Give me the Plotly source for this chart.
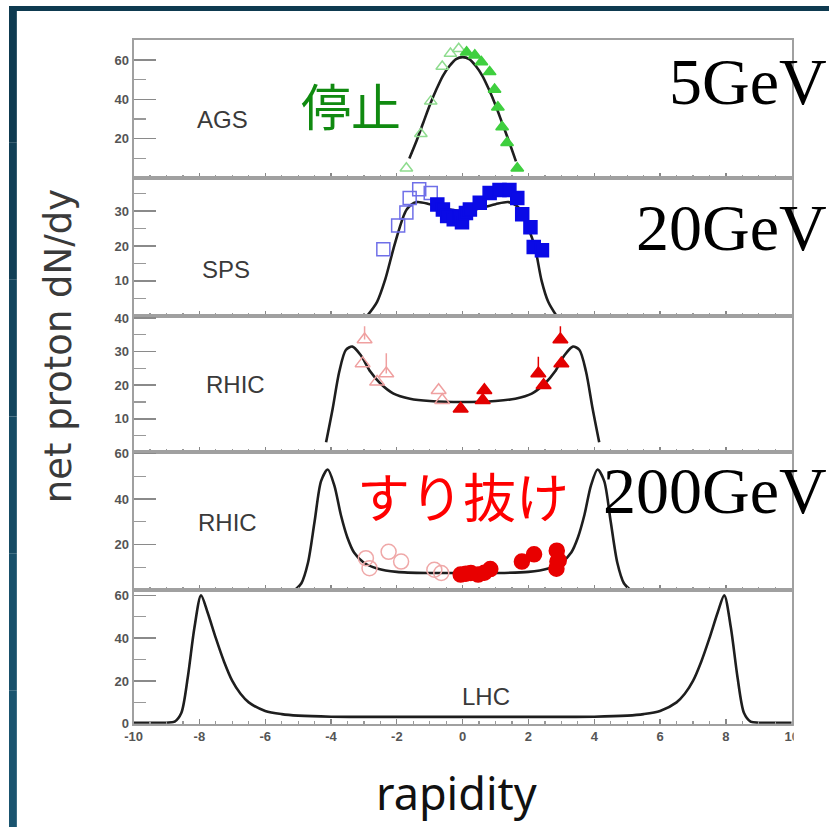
import plotly.graph_objects as go

# ---------------- data ----------------
# AGS (5 GeV)
ags_curve_x = [-1.62, -1.4, -1.2, -1.0, -0.8, -0.6, -0.4, -0.2, 0.0, 0.2, 0.4, 0.6, 0.8, 1.0, 1.2, 1.4, 1.62]
ags_curve_y = [10, 19, 28, 37, 45, 52, 57, 60.5, 61.5, 60.5, 57, 52, 45, 37, 28, 19, 8.5]
ags_open_x = [-1.71, -1.27, -0.97, -0.62, -0.37, -0.12]
ags_open_y = [5, 22.5, 39, 56.7, 63.3, 65.8]
ags_fill_x = [0.12, 0.37, 0.57, 0.82, 0.97, 1.07, 1.2, 1.35, 1.66]
ags_fill_y = [64, 62.5, 59, 54, 45, 36, 26, 18, 5]

# SPS (20 GeV)
sps_curve_x = [-2.9, -2.6, -2.35, -2.05, -1.7, -1.4, -1.0, -0.6, -0.3, 0.0, 0.3, 0.6, 1.0, 1.4, 1.7, 2.0, 2.2, 2.4, 2.6, 2.85]
sps_curve_y = [0, 4, 10.5, 21, 30.5, 32.6, 32, 31, 30.3, 30, 30.3, 31, 32, 32.6, 31, 25, 19.5, 10, 4, 0]
sps_open_x = [-2.41, -1.96, -1.71, -1.61, -1.32, -0.97]
sps_open_y = [19.1, 25.9, 29.6, 33.8, 36.3, 35.2]
sps_fill_x = [-0.77, -0.6, -0.47, -0.27, -0.1, -0.02, 0.1, 0.22, 0.52, 0.82, 1.12, 1.42, 1.66, 1.81, 2.06, 2.16, 2.41]
sps_fill_y = [31.9, 30.5, 28.6, 27.7, 28.5, 26.8, 29.5, 30.5, 32.4, 35.2, 36.1, 36.1, 33.8, 29.1, 25.4, 19.7, 18.8]

# RHIC (62 GeV)
r62_curve_x = [-4.15, -3.95, -3.75, -3.55, -3.35, -3.1, -2.8, -2.5, -2.1, -1.6, -1.0, 0.0, 1.0, 1.6, 2.1, 2.5, 2.8, 3.1, 3.35, 3.55, 3.75, 3.95, 4.15]
r62_curve_y = [3, 13, 24, 30.5, 31.5, 29, 24, 20.5, 17.5, 16, 15.3, 15, 15.3, 16, 17.5, 20.5, 24, 29, 31.5, 30.5, 24, 13, 3]
r62_open_x = [-2.98, -3.04, -2.6, -2.32, -0.73, -0.62]
r62_open_y = [33.6, 26.5, 21, 23.5, 18.5, 15.5]
r62_open_err = [4, 0, 0, 6, 0, 0]
r62_fill_x = [-0.06, 0.61, 0.66, 2.3, 2.46, 2.97, 3.0]
r62_fill_y = [13, 15.5, 18.5, 23.5, 20, 33.6, 26.5]
r62_fill_err = [0, 0, 0, 5, 0, 4, 0]

# RHIC (200 GeV)
r200_curve_x = [-5.1, -4.9, -4.7, -4.5, -4.3, -4.1, -3.9, -3.7, -3.5, -3.3, -3.0, -2.6, -2.0, -1.0, 0.0,
                1.0, 2.0, 2.6, 3.0, 3.3, 3.5, 3.7, 3.9, 4.1, 4.3, 4.5, 4.7, 4.9, 5.1]
r200_curve_y = [0, 3, 12, 30, 48, 53, 46, 33, 23, 16.5, 12, 9.5, 8, 7.5, 7.5,
                7.5, 8, 9.5, 12, 16.5, 23, 33, 46, 53, 48, 30, 12, 3, 0]
r200_open_x = [-2.94, -2.83, -2.25, -1.87, -0.86, -0.65]
r200_open_y = [14, 9.6, 16.8, 12.5, 8.9, 7.5]
r200_fill_x = [-0.06, 0.1, 0.25, 0.47, 0.66, 0.84, 1.8, 2.17, 2.86, 2.88, 2.85, 2.92]
r200_fill_y = [6.8, 7.2, 7.5, 6.8, 7.6, 9.2, 12.5, 15.7, 17.3, 12.5, 9.4, 13]

# LHC
lhc_curve_x = [-10, -9, -8.75, -8.55, -8.35, -8.15, -7.95, -7.75, -7.5, -7.25, -7.0, -6.75, -6.5, -6.0, -5.5, -5.0, -4.0, -2.0, 0.0,
               2.0, 4.0, 5.0, 5.5, 6.0, 6.5, 6.75, 7.0, 7.25, 7.5, 7.75, 7.95, 8.15, 8.35, 8.55, 8.75, 9, 10]
lhc_curve_y = [0.5, 0.5, 1, 5, 22, 45, 60, 52, 40, 29, 20, 14, 10, 6, 4.5, 3.8, 3.3, 3.2, 3.2,
               3.2, 3.3, 3.8, 4.5, 6, 10, 14, 20, 29, 40, 52, 60, 45, 22, 5, 1, 0.5, 0.5]

panel_names = ["AGS", "SPS", "RHIC", "RHIC", "LHC"]
y_ranges = [[0, 70], [0, 39.5], [0, 40.7], [0, 60.5], [0, 62.5]]
y_major = [[0, 20, 40, 60], [10, 20, 30], [10, 20, 30, 40], [20, 40, 60], [0, 20, 40, 60]]
y_major_text = [["", "20", "40", "60"], ["10", "20", "30"], ["10", "20", "30", "40"], ["20", "40", "60"], ["0", "20", "40", "60"]]
y_minor = [[10, 30, 50], [5, 15, 25, 35], [5, 15, 25, 35], [10, 30, 50], [10, 30, 50]]
x_major = [-10, -8, -6, -4, -2, 0, 2, 4, 6, 8, 10]
x_major_text = ["-10", "-8", "-6", "-4", "-2", "0", "2", "4", "6", "8", "10"]
energy_labels = ["5GeV", "20GeV", "200GeV"]

# ---------------- layout geometry ----------------
W, H = 836, 835
def px(x):
    return x / W
def py(y):
    return 1 - y / H

x_dom = [px(127), px(798)]
panel_px = [(35, 175), (175, 315), (315, 454), (454, 594), (594, 730)]

fig = go.Figure()

curves = [(ags_curve_x, ags_curve_y), (sps_curve_x, sps_curve_y), (r62_curve_x, r62_curve_y),
          (r200_curve_x, r200_curve_y), (lhc_curve_x, lhc_curve_y)]

for i, (cx, cy) in enumerate(curves):
    n = i + 1
    fig.add_trace(go.Scatter(x=cx, y=cy, mode="lines", line=dict(color="#1e1e1e", width=2.6, shape="spline", smoothing=0.8),
                             xaxis=f"x{n}", yaxis=f"y{n}", showlegend=False, hoverinfo="skip"))

def add_pts(n, x, y, symbol, color, size, lw=1.5, err=None):
    kw = {}
    if err is not None:
        kw["error_y"] = dict(type="data", symmetric=False, array=err, arrayminus=[0] * len(err),
                             color=color, thickness=1.5, width=0)
    fig.add_trace(go.Scatter(x=x, y=y, mode="markers",
                             marker=dict(symbol=symbol, color=color, size=size, line=dict(color=color, width=lw)),
                             xaxis=f"x{n}", yaxis=f"y{n}", showlegend=False, hoverinfo="skip", **kw))

add_pts(1, ags_open_x, ags_open_y, "triangle-up-open", "#8fdc8f", 11)
add_pts(1, ags_fill_x, ags_fill_y, "triangle-up", "#3fcf3f", 11)
add_pts(2, sps_open_x, sps_open_y, "square-open", "#6f6fe8", 13)
add_pts(2, sps_fill_x, sps_fill_y, "square", "#0a0ae6", 13)
add_pts(3, r62_open_x, r62_open_y, "triangle-up-open", "#efa0a0", 13, err=r62_open_err)
add_pts(3, r62_fill_x, r62_fill_y, "triangle-up", "#e30000", 13, err=r62_fill_err)
add_pts(4, r200_open_x, r200_open_y, "circle-open", "#efa8a8", 15)
add_pts(4, r200_fill_x, r200_fill_y, "circle", "#e80000", 15)

tick_font = dict(family="Liberation Sans", size=13, color="#555555", weight="bold")
for i in range(5):
    n = i + 1
    top, bot = panel_px[i]
    xa = dict(domain=x_dom, range=[-10, 10], anchor=f"y{n}", showline=True, mirror=True,
              linecolor="#a0a0a0", linewidth=2, ticks="inside", ticklen=5, tickwidth=1.2, tickcolor="#888888",
              tickmode="array", tickvals=x_major, ticktext=x_major_text,
              showticklabels=(n == 5), tickfont=dict(family="Liberation Sans", size=13, color="#555555", weight="bold"),
              minor=dict(tickmode="linear", tick0=0, dtick=0.5, ticks="inside", ticklen=3, tickcolor="#999999"),
              showgrid=False, zeroline=False, fixedrange=True)
    if n > 1:
        xa["matches"] = "x"
    ya = dict(domain=[py(bot), py(top)], range=y_ranges[i], anchor=f"x{n}", showline=True, mirror=True,
              linecolor="#a0a0a0", linewidth=2, ticks="inside", ticklen=22, tickwidth=1.5, tickcolor="#8a8a8a",
              tickmode="array", tickvals=y_major[i], ticktext=y_major_text[i], tickfont=tick_font,
              minor=dict(tickmode="array", tickvals=y_minor[i], ticks="inside", ticklen=12, tickcolor="#999999", tickwidth=1.2),
              showgrid=False, zeroline=False, fixedrange=True)
    fig.update_layout({f"xaxis{n}" if n > 1 else "xaxis": xa, f"yaxis{n}" if n > 1 else "yaxis": ya})

annotations = []
# panel labels (data coords)
panel_label_pos = [(-7.3, 30), (-7.2, 13.2), (-6.9, 20.1), (-7.15, 29.8), (0.7, 12.9)]
for i, name in enumerate(panel_names):
    n = i + 1
    annotations.append(dict(text=name, x=panel_label_pos[i][0], y=panel_label_pos[i][1],
                            xref=f"x{n}", yref=f"y{n}", showarrow=False, xanchor="center", yanchor="middle",
                            font=dict(family="Liberation Sans", size=24, color="#3a3a3a")))

# energy labels
energy_pos = [77, 225, 493]
for txt, yy in zip(energy_labels, energy_pos):
    annotations.append(dict(text=txt, x=px(836), y=py(yy), xref="paper", yref="paper", xanchor="right", yanchor="middle",
                            showarrow=False, font=dict(family="Liberation Serif", size=66, color="#000000")))

annotations.append(dict(text="停止", x=px(349), y=py(100), xref="paper", yref="paper", showarrow=False,
                        xanchor="center", yanchor="middle",
                        font=dict(family="Noto Sans CJK JP", size=50, color="#108a10")))
annotations.append(dict(text="すり抜け", x=px(463), y=py(497), xref="paper", yref="paper", showarrow=False,
                        xanchor="center", yanchor="middle",
                        font=dict(family="Noto Sans CJK JP", size=53, color="#ff0000")))
annotations.append(dict(text="rapidity", x=px(456), y=py(800), xref="paper", yref="paper", showarrow=False,
                        xanchor="center", yanchor="middle",
                        font=dict(family="Noto Sans", size=45, color="#111111")))
annotations.append(dict(text="net proton dN/dy", x=px(50), y=py(346), xref="paper", yref="paper", showarrow=False,
                        xanchor="center", yanchor="middle",
                        textangle=-90, font=dict(family="DejaVu Sans", size=37, color="#3a3a3a")))

shapes = []
# slide frame (dark band top & left)
band_cols = ["#0e3a50", "#113f56", "#13455d", "#164b64", "#18506a", "#1a546f"]
seg = H / len(band_cols)
for k, c in enumerate(band_cols):
    shapes.append(dict(type="rect", xref="paper", yref="paper", x0=0, x1=px(8),
                       y0=py((k + 1) * seg), y1=py(k * seg), fillcolor=c, line=dict(width=0), layer="above"))
shapes.append(dict(type="rect", xref="paper", yref="paper", x0=0, x1=1, y0=py(5), y1=1,
                   fillcolor="#0e3a50", line=dict(width=0), layer="above"))
# cropped edge of the original figure (hides right half of last tick label)
shapes.append(dict(type="rect", xref="paper", yref="paper", x0=px(800), x1=1, y0=py(765), y1=py(732),
                   fillcolor="#ffffff", line=dict(width=0), layer="above"))

fig.update_layout(width=W, height=H, margin=dict(l=0, r=0, t=0, b=0), paper_bgcolor="#ffffff",
                  plot_bgcolor="#ffffff", annotations=annotations, shapes=shapes, showlegend=False)

post = (
    "document.documentElement.style.margin='0';document.documentElement.style.padding='0';"
    "document.documentElement.style.overflow='hidden';"
    "document.body.style.margin='0';document.body.style.padding='0';document.body.style.overflow='hidden';"
    "var gd=document.getElementsByClassName('plotly-graph-div')[0];"
    "gd.style.position='fixed';gd.style.left='0px';gd.style.top='0px';"
)
fig.write_html("out.html", config={"staticPlot": True, "displayModeBar": False}, post_script=post)
